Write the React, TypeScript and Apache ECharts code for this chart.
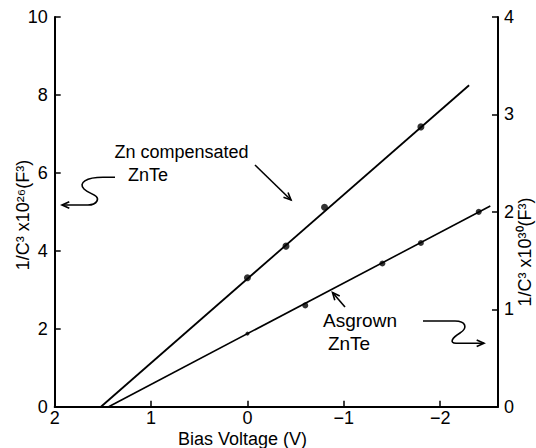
import { useEffect, useRef } from "react";
import * as echarts from "echarts";

// Data (bias voltage in V, capacitance values)
const znCompVoltage = [0, -0.4, -0.8, -1.8];
const znCompValue = [3.31, 4.12, 5.12, 7.18];
const znCompFitVoltage = [1.52, -2.3];
const znCompFitValue = [0, 8.25];

const asgrownVoltage = [0, -0.6, -1.4, -1.8, -2.4];
const asgrownValue = [0.75, 1.04, 1.47, 1.68, 2.0];
const asgrownSize = [4, 6, 6, 6, 6];
const asgrownFitVoltage = [1.44, -2.52];
const asgrownFitValue = [0, 2.06];

const leftAxisName = "1/C³ x10²⁶(F³)";
const rightAxisName = "1/C³ x10³⁰(F³)";
const xAxisName = "Bias Voltage (V)";
const znLabel = ["Zn compensated", "ZnTe"];
const asLabel = ["Asgrown", "ZnTe"];

const FONT = "Liberation Sans, Arial, sans-serif";

echarts.graphic.registerShape(
  "squiggleLeft",
  echarts.graphic.extendPath(
    "M115 177.3 L103 177.3 C86 177.3 78 183 84 189 C89 194 100 195 97 201 C95 204.5 92 205 88 205 L62 205",
    {}
  )
);
echarts.graphic.registerShape(
  "squiggleRight",
  echarts.graphic.extendPath(
    "M423 321 L455 321 C466 321 468 328 460 333 C452 338 449 343 456 343.3 L484 343.3",
    {}
  )
);

function arrowHead(x1: number, y1: number, x2: number, y2: number, len = 8, spread = 0.42) {
  const a = Math.atan2(y2 - y1, x2 - x1);
  return {
    type: "polyline",
    shape: {
      points: [
        [x2 - len * Math.cos(a + spread), y2 - len * Math.sin(a + spread)],
        [x2, y2],
        [x2 - len * Math.cos(a - spread), y2 - len * Math.sin(a - spread)],
      ],
    },
    style: { stroke: "#000", lineWidth: 1.6, fill: "none" },
    silent: true,
  };
}

function arrow(x1: number, y1: number, x2: number, y2: number) {
  return [
    {
      type: "line",
      shape: { x1, y1, x2, y2 },
      style: { stroke: "#000", lineWidth: 1.6 },
      silent: true,
    },
    arrowHead(x1, y1, x2, y2),
  ];
}

const negate = (v: number) => -v;

export default function App() {
  const ref = useRef<HTMLDivElement>(null);

  useEffect(() => {
    if (!ref.current) return;
    const chart = echarts.init(ref.current, null, { renderer: "svg" });

    const textStyle = (text: string, fontSize = 18) => ({
      text,
      fontSize,
      fontFamily: FONT,
      fill: "#000",
      align: "center",
      verticalAlign: "middle",
    });

    const axisCommon = {
      axisTick: { show: true, inside: true, length: 6, lineStyle: { color: "#000", width: 1.5 } },
      splitLine: { show: false },
    };

    const option: any = {
      animation: false,
      backgroundColor: "#fff",
      grid: { left: 54.7, right: 38, top: 17, bottom: 41.3, containLabel: false },
      xAxis: {
        type: "value",
        min: -2,
        max: 2.6,
        interval: 1,
        axisLine: { show: true, onZero: false, lineStyle: { color: "#000", width: 2 } },
        ...axisCommon,
        axisLabel: {
          color: "#000",
          fontSize: 18,
          fontFamily: FONT,
          margin: 2,
          showMaxLabel: false,
          formatter: (v: number) => {
            const r = Math.round(-v);
            return r < 0 ? "\u2212" + Math.abs(r) : String(r);
          },
        },
      },
      yAxis: [
        {
          type: "value",
          min: 0,
          max: 10,
          interval: 2,
          position: "left",
          axisLine: { show: true, onZero: false, lineStyle: { color: "#000", width: 2 } },
          ...axisCommon,
          axisLabel: { color: "#000", fontSize: 18, fontFamily: FONT, margin: 7 },
        },
        {
          type: "value",
          min: 0,
          max: 4,
          interval: 1,
          position: "right",
          axisLine: { show: true, onZero: false, lineStyle: { color: "#000", width: 2 } },
          ...axisCommon,
          axisLabel: { color: "#000", fontSize: 18, fontFamily: FONT, margin: 6 },
        },
      ],
      series: [
        {
          type: "line",
          yAxisIndex: 0,
          data: znCompFitVoltage.map((v, i) => [negate(v), znCompFitValue[i]]),
          showSymbol: false,
          lineStyle: { color: "#000", width: 1.8 },
          silent: true,
        },
        {
          type: "scatter",
          yAxisIndex: 0,
          data: znCompVoltage.map((v, i) => [negate(v), znCompValue[i]]),
          symbol: "circle",
          symbolSize: 7,
          itemStyle: { color: "#000" },
        },
        {
          type: "line",
          yAxisIndex: 1,
          data: asgrownFitVoltage.map((v, i) => [negate(v), asgrownFitValue[i]]),
          showSymbol: false,
          lineStyle: { color: "#000", width: 1.6 },
          silent: true,
        },
        {
          type: "scatter",
          yAxisIndex: 1,
          data: asgrownVoltage.map((v, i) => ({
            value: [negate(v), asgrownValue[i]],
            symbolSize: asgrownSize[i],
          })),
          symbol: "circle",
          itemStyle: { color: "#000" },
        },
      ],
      graphic: [
        { type: "text", x: 23, y: 215, rotation: Math.PI / 2, style: textStyle(leftAxisName, 18), silent: true },
        { type: "text", x: 525, y: 252, rotation: Math.PI / 2, style: textStyle(rightAxisName, 18), silent: true },
        { type: "text", x: 242.5, y: 439, style: textStyle(xAxisName, 18), silent: true },
        { type: "text", x: 181.5, y: 152, style: textStyle(znLabel[0], 18), silent: true },
        { type: "text", x: 148, y: 175, style: textStyle(znLabel[1], 18), silent: true },
        { type: "text", x: 360, y: 320, style: textStyle(asLabel[0], 19), silent: true },
        { type: "text", x: 349, y: 343, style: textStyle(asLabel[1], 19), silent: true },
        ...arrow(255, 165, 291, 200),
        ...arrow(345, 307, 332.5, 292.5),
        {
          type: "squiggleLeft",
          x: 0,
          y: 0,
          style: { stroke: "#000", lineWidth: 1.6, fill: "none" },
          silent: true,
        },
        arrowHead(80, 205, 62, 205),
        {
          type: "squiggleRight",
          x: 0,
          y: 0,
          style: { stroke: "#000", lineWidth: 1.6, fill: "none" },
          silent: true,
        },
        arrowHead(460, 343.3, 484, 343.3),
      ],
    };

    chart.setOption(option);
    return () => chart.dispose();
  }, []);

  return (
    <div
      ref={ref}
      style={{ position: "fixed", left: 0, top: 0, width: 536, height: 448, background: "#fff" }}
    />
  );
}
